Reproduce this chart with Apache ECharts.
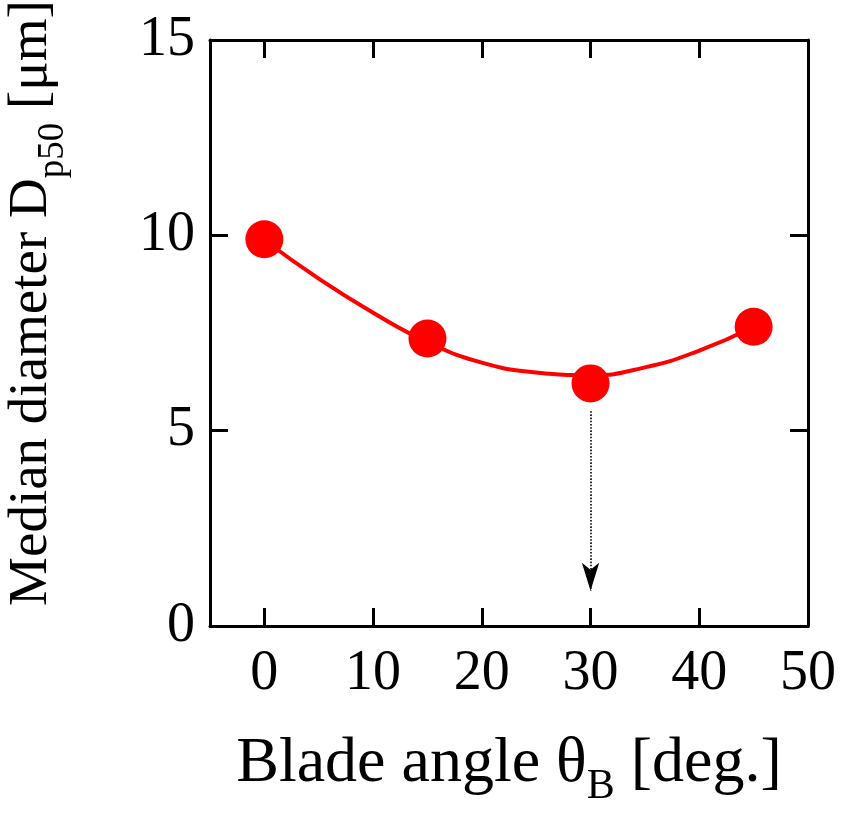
<!DOCTYPE html>
<html>
<head>
<meta charset="utf-8">
<script src="https://cdn.jsdelivr.net/npm/echarts@6/dist/echarts.min.js"></script>
<style>
html, body { margin: 0; padding: 0; background: #fff; }
#chart { width: 842px; height: 821px; }
</style>
</head>
<body>
<div id="chart"></div>
<script>
// measured points
var angles = [0, 15, 30, 45];
var diameters = [9.9, 7.36, 6.21, 7.66];
// fitted curve
var fitAngles = [0, 5, 10, 15, 20, 25, 30, 35, 40, 45];
var fitValues = [9.88, 8.89, 8.02, 7.27, 6.74, 6.49, 6.42, 6.62, 7.05, 7.66];
// arrow pointing down from the optimum
var arrowFrom = [30, 5.5];
var arrowTo = [30, 0.9];
var xTicks = [0, 10, 20, 30, 40, 50];
var yTicks = [0, 5, 10, 15];

var font = '"Liberation Serif", "DejaVu Serif", serif';

var byId = function(id) {
	return document.getElementById(id);
};

var zip = function(xs, ys) {
	return xs.map(function(x, i) { return [x, ys[i]]; });
};

var axisLine = { show: true, onZero: false, lineStyle: { color: '#000', width: 3 } };
var tick = { show: true, inside: true, length: 18, lineStyle: { color: '#000', width: 3 } };

var chart = echarts.init(byId('chart'));
chart.setOption({
	animation: false,
	backgroundColor: '#fff',
	grid: {
		left: 210,
		right: 34,
		top: 40,
		bottom: 195,
		containLabel: false,
		outerBoundsMode: 'none'
	},
	xAxis: [{
		type: 'value',
		min: -5,
		max: 50,
		interval: 5,
		axisLine: axisLine,
		axisTick: Object.assign({ customValues: xTicks }, tick),
		splitLine: { show: false },
		axisLabel: {
			customValues: xTicks,
			margin: 20,
			color: '#000',
			fontFamily: font,
			fontSize: 56
		},
		name: '{n|Blade angle θ}{s|B}{n| [deg.]}',
		nameLocation: 'middle',
		nameGap: 104,
		nameTextStyle: {
			rich: {
				n: { fontFamily: font, fontSize: 64, color: '#000', lineHeight: 68 },
				s: { fontFamily: font, fontSize: 42, color: '#000', lineHeight: 68, padding: [46, 0, 0, 0] }
			}
		}
	}, {
		type: 'value',
		position: 'top',
		min: -5,
		max: 50,
		interval: 5,
		axisLine: axisLine,
		axisTick: Object.assign({ customValues: xTicks }, tick),
		axisLabel: { show: false },
		splitLine: { show: false }
	}],
	yAxis: [{
		type: 'value',
		min: 0,
		max: 15,
		interval: 5,
		axisLine: axisLine,
		axisTick: Object.assign({ customValues: yTicks }, tick),
		splitLine: { show: false },
		axisLabel: {
			customValues: yTicks,
			margin: 15,
			color: '#000',
			fontFamily: font,
			fontSize: 56
		},
		name: '{n|Median diameter D}{s|p50}{n| [μm]}',
		nameLocation: 'middle',
		nameRotate: 90,
		nameGap: 148,
		nameTextStyle: {
			padding: [0, 0, 0, 60],
			rich: {
				n: { fontFamily: font, fontSize: 55, color: '#000', lineHeight: 60 },
				s: { fontFamily: font, fontSize: 37, color: '#000', lineHeight: 60, padding: [42, 0, 0, 0] }
			}
		}
	}, {
		type: 'value',
		position: 'right',
		min: 0,
		max: 15,
		interval: 5,
		axisLine: axisLine,
		axisTick: Object.assign({ customValues: yTicks }, tick),
		axisLabel: { show: false },
		splitLine: { show: false }
	}],
	series: [{
		type: 'line',
		data: zip(fitAngles, fitValues),
		smooth: true,
		showSymbol: false,
		symbol: 'none',
		lineStyle: { color: '#ff0000', width: 4 },
		z: 2,
		markLine: {
			silent: true,
			symbol: ['none', 'arrow'],
			symbolSize: [13, 28],
			label: { show: false },
			lineStyle: { color: '#000', type: 'dotted', width: 1.6 },
			data: [[{ coord: arrowFrom }, { coord: arrowTo }]]
		}
	}, {
		type: 'scatter',
		data: zip(angles, diameters),
		symbol: 'circle',
		symbolSize: 38,
		itemStyle: { color: '#ff0000', opacity: 1 },
		z: 3
	}]
});
</script>
</body>
</html>
